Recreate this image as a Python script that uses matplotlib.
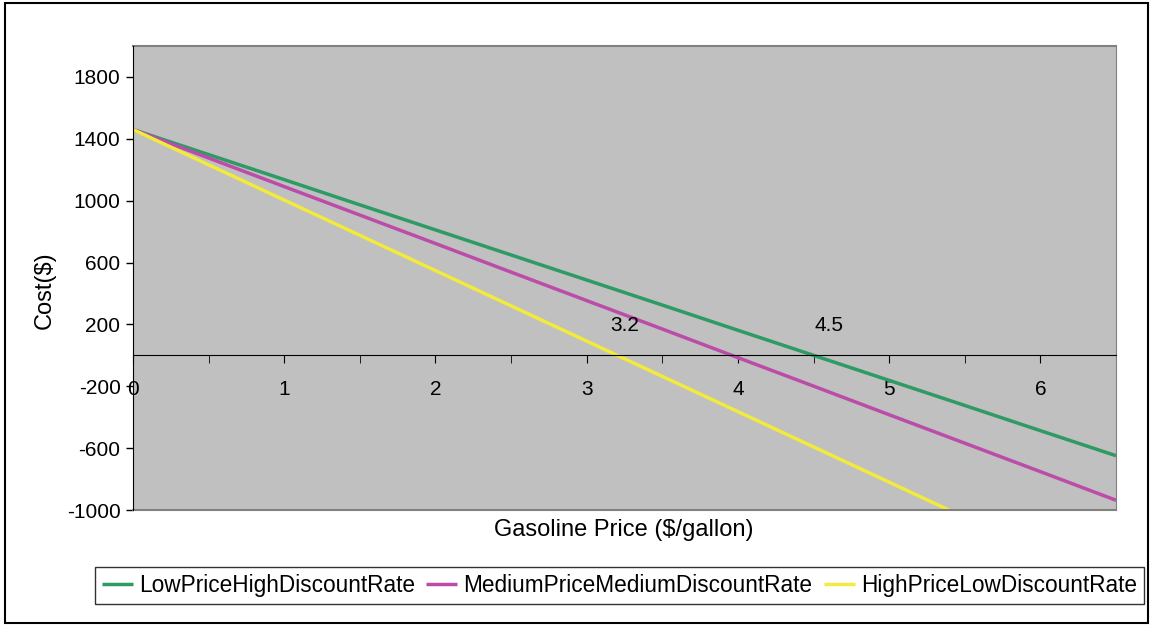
import matplotlib.pyplot as plt
from matplotlib.patches import Rectangle
from matplotlib.ticker import MultipleLocator

plt.rcParams['font.family'] = ['Liberation Sans', 'DejaVu Sans']
plt.rcParams['axes.unicode_minus'] = False

price = [0, 0.5, 1, 1.5, 2, 2.5, 3, 3.5, 4, 4.5, 5, 5.5, 6, 6.5]
low_high = [1460, 1298, 1136, 973, 811, 649, 487, 325, 162, 0, -162, -324, -487, -649]
med_med = [1460, 1276, 1091, 907, 723, 538, 354, 170, -15, -199, -384, -568, -752, -937]
high_low = [1460, 1232, 1004, 776, 548, 320, 92, -136, -364, -592, -820, -1048, -1276, -1504]
names = ['LowPriceHighDiscountRate', 'MediumPriceMediumDiscountRate', 'HighPriceLowDiscountRate']
colors = ['#2e9a64', '#bb4ca9', '#f2ea3c']
breakeven = [3.2, 4.5]
breakeven_pos = [(3.25, 195), (4.6, 195)]

fig = plt.figure(figsize=(11.51, 6.25), dpi=100)
fig.patches.append(Rectangle((0.004, 0.004), 0.993, 0.992, transform=fig.transFigure,
                             fill=False, edgecolor='black', linewidth=1.5))
ax = fig.add_axes([133 / 1151, 1 - 510 / 625, (1116 - 133) / 1151, (510 - 46) / 625])
ax.set_facecolor('#c0c0c0')

for ys, name, c in zip([low_high, med_med, high_low], names, colors):
    ax.plot(price, ys, color=c, linewidth=2.5, label=name, solid_capstyle='butt')

ax.set_xlim(0, 6.5)
ax.set_ylim(-1000, 2000)
ax.set_yticks([-1000, -600, -200, 200, 600, 1000, 1400, 1800])
ax.tick_params(axis='y', labelsize=15, length=5, direction='out', width=1, pad=4)

# x axis drawn at y = 0
ax.spines['bottom'].set_position(('data', 0))
ax.spines['top'].set_visible(False)
ax.spines['right'].set_color('#808080')
ax.spines['left'].set_color('black')
ax.xaxis.set_major_locator(MultipleLocator(1))
ax.xaxis.set_minor_locator(MultipleLocator(0.5))
ax.tick_params(axis='x', which='both', length=6, direction='out', labelsize=15, pad=12)
ax.axhline(-1000, color='#808080', linewidth=1.5, clip_on=False)
ax.axhline(2000, color='#808080', linewidth=1.5, clip_on=False)

for v, (px, py) in zip(breakeven, breakeven_pos):
    ax.text(px, py, str(v), ha='center', va='center', fontsize=15)

fig.text(45 / 1151, 1 - 290 / 625, 'Cost($)', rotation=90, ha='center', va='center', fontsize=17)
fig.text(624 / 1151, 1 - 530 / 625, 'Gasoline Price ($/gallon)', ha='center', va='center', fontsize=17)

leg = fig.legend(loc='center', bbox_to_anchor=(619.5 / 1151, 1 - 585.5 / 625), ncol=3, fontsize=16.3,
                 frameon=True, fancybox=False, shadow=False, edgecolor='black', handlelength=1.37,
                 handletextpad=0.27, columnspacing=0.5, borderpad=0.3, borderaxespad=0)
leg.get_frame().set_linewidth(1)

fig.savefig('out.png', dpi=100)
